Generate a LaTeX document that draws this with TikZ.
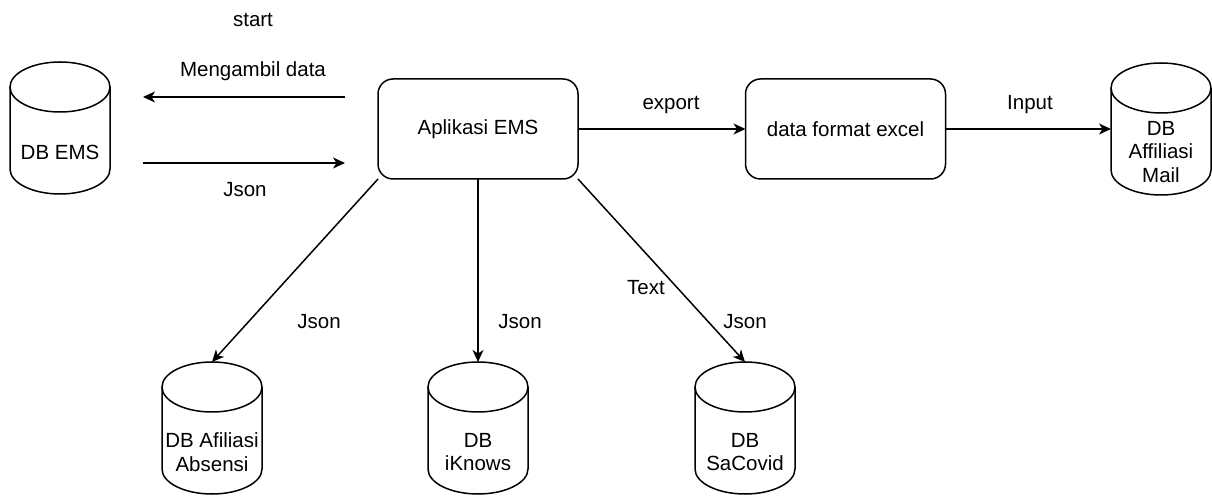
\documentclass[tikz,border=0pt]{standalone}
\usepackage{fontspec}
\setmainfont{Liberation Sans}
\usetikzlibrary{arrows.meta,calc}
\newcommand{\drawcyl}[1]{%
  \draw ($(#1.north west)+(0,-25)$) -- ($(#1.south west)+(0,25)$)
     arc[start angle=180,end angle=360,x radius=50,y radius=25]
     -- ($(#1.north east)+(0,-25)$);
  \draw ($(#1.north)+(0,-25)$) ellipse[x radius=50,y radius=25];
}
\begin{document}
\begin{tikzpicture}[x=1pt,y=1pt,
  font=\fontsize{20.5}{23.5}\selectfont,
  line width=1.5pt,
  proc/.style={draw, rounded corners=15pt, minimum width=200pt, minimum height=100pt, inner sep=0pt, outer sep=0pt},
  cyl/.style={minimum width=100pt, minimum height=132pt, inner sep=0pt, outer sep=0pt},
  cyltext/.style={align=center, inner sep=0pt},
  lbl/.style={inner sep=0pt},
  arr/.style={-{Stealth[length=12pt,width=11pt,inset=3.5pt]}},
]
\useasboundingbox (0,0) rectangle (1212,495);

% process boxes
\node[proc] (app) at (478,366) {Aplikasi EMS};
\node[proc] (excel) at (845.5,366) {data format excel};

% cylinders
\node[cyl] (dbems) at (60,367) {};
\node[cyl] (mail) at (1161,366) {};
\node[cyl] (absensi) at (212,67) {};
\node[cyl] (iknows) at (478,67) {};
\node[cyl] (sacovid) at (745,67) {};
\drawcyl{dbems}
\drawcyl{mail}
\drawcyl{absensi}
\drawcyl{iknows}
\drawcyl{sacovid}

\node[cyltext] (dbems-t) at (60,343) {DB EMS};
\node[cyltext] (mail-t) at (1161,343) {DB\\Affiliasi\\Mail};
\node[cyltext] (absensi-t) at (212,43) {DB Afiliasi\\Absensi};
\node[cyltext] (iknows-t) at (478,43) {DB\\iKnows};
\node[cyltext] (sacovid-t) at (745,43) {DB\\SaCovid};

% free arrows between DB EMS and app
\coordinate (m1) at (345,398);
\coordinate (m2) at (143,398);
\coordinate (j1) at (143,332);
\coordinate (j2) at (345,332);
\draw[arr] (m1) -- (m2);
\draw[arr] (j1) -- (j2);

% connectors
\draw[arr] (app.east) -- (excel.west);
\draw[arr] (excel.east) -- (mail.west);
\draw[arr] (app.south west) -- (absensi.north);
\draw[arr] (app.south) -- (iknows.north);
\draw[arr] (app.south east) -- (sacovid.north);

% labels
\node[lbl] (l-start) at (253,475) {start};
\node[lbl] (l-meng) at (253,424) {Mengambil data};
\node[lbl] (l-json0) at (245,305) {Json};
\node[lbl] (l-export) at (671,390) {export};
\node[lbl] (l-input) at (1030,390) {Input};
\node[lbl] (l-json1) at (319,173) {Json};
\node[lbl] (l-json2) at (520,173) {Json};
\node[lbl] (l-text) at (646,207) {Text};
\node[lbl] (l-json3) at (745,173) {Json};
\end{tikzpicture}
\end{document}
